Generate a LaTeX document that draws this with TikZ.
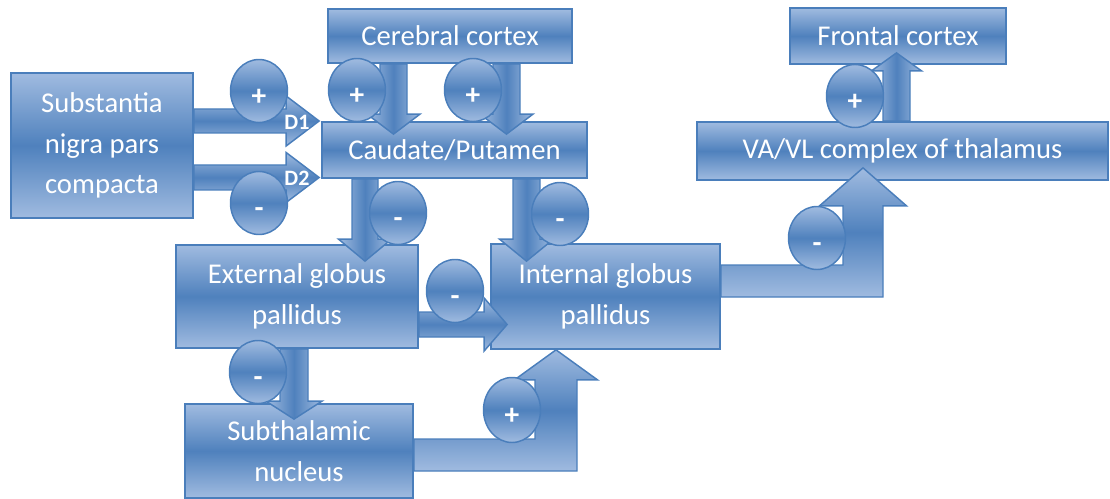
\documentclass[tikz,border=0pt]{standalone}
\usepackage{fontspec}
\setmainfont{Carlito}
\usetikzlibrary{calc,shapes.geometric}
\definecolor{light}{HTML}{A0BBE0}
\definecolor{mid}{HTML}{4F81BD}
\definecolor{edge}{HTML}{4A7EBB}
% right arrow: start, tip, shaft half width, head half width, head length
\newcommand\rarrow[5]{\path[harr] ($(#1)+(0,-#3)$) -- ($(#2|-#1)+(-#5,-#3)$) -- ($(#2|-#1)+(-#5,-#4)$) -- (#2|-#1) -- ($(#2|-#1)+(-#5,#4)$) -- ($(#2|-#1)+(-#5,#3)$) -- ($(#1)+(0,#3)$) -- cycle;}
% down arrow
\newcommand\darrow[5]{\path[varr] ($(#1)+(-#3,0)$) -- ($(#1|-#2)+(-#3,-#5)$) -- ($(#1|-#2)+(-#4,-#5)$) -- (#1|-#2) -- ($(#1|-#2)+(#4,-#5)$) -- ($(#1|-#2)+(#3,-#5)$) -- ($(#1)+(#3,0)$) -- cycle;}
% up arrow
\newcommand\uarrow[5]{\path[varr] ($(#1)+(-#3,0)$) -- ($(#1|-#2)+(-#3,#5)$) -- ($(#1|-#2)+(-#4,#5)$) -- (#1|-#2) -- ($(#1|-#2)+(#4,#5)$) -- ($(#1|-#2)+(#3,#5)$) -- ($(#1)+(#3,0)$) -- cycle;}
% bent (right then up) arrow: start, tip, horiz half width, vert half width, head half width, head length
\newcommand\bentarrow[6]{\path[harr] ($(#1)+(0,-#3)$) -- ($(#2|-#1)+(-#4,-#3)$) -- ($(#2)+(-#4,#6)$) -- ($(#2)+(-#5,#6)$) -- (#2) -- ($(#2)+(#5,#6)$) -- ($(#2)+(#4,#6)$) -- ($(#2|-#1)+(#4,#3)$) -- ($(#1)+(0,#3)$) -- cycle;}
\tikzset{
  box/.style={draw=edge, line width=1.3pt, top color=light, bottom color=light, middle color=mid,
    text=white, align=center, inner sep=0pt, font=\fontsize{21.5}{30.4}\selectfont},
  harr/.style={draw=edge, line width=1.1pt, line join=miter, top color=light, bottom color=light, middle color=mid},
  varr/.style={draw=edge, line width=1.1pt, line join=miter, left color=light, right color=light, middle color=mid},
  sign/.style={ellipse, draw=edge, line width=1.1pt, top color=light, bottom color=light, middle color=mid,
    minimum width=42.75pt, minimum height=47.25pt, inner sep=0pt, text=white,
    text height=22pt, text depth=0pt,
    font=\fontsize{22}{24}\selectfont\bfseries},
  dlabel/.style={text=white, inner sep=0pt, font=\fontsize{16.5}{18}\selectfont\bfseries}
}
\begin{document}
\begin{tikzpicture}[x=0.75pt,y=-0.75pt]
\useasboundingbox (0,0) rectangle (1110,499);
% boxes
\node[box, minimum width=136.5pt, minimum height=108.75pt] (sn) at (102,145.5) {Substantia\\nigra pars\\compacta};
\node[box, minimum width=183pt, minimum height=40.5pt] (cc) at (450,36) {Cerebral cortex};
\node[box, minimum width=198.75pt, minimum height=42pt] (cp) at (454.5,150) {Caudate/Putamen};
\node[box, minimum width=181.5pt, minimum height=77.25pt] (egp) at (297,296.5) {External globus\\pallidus};
\node[box, minimum width=171.75pt, minimum height=78.75pt] (igp) at (605.5,296.5) {Internal globus\\pallidus};
\node[box, minimum width=171pt, minimum height=70.5pt] (stn) at (299,451) {Subthalamic\\nucleus};
\node[box, minimum width=308.25pt, minimum height=43.5pt] (va) at (902.5,151) {VA/VL complex of thalamus};
\node[box, minimum width=162pt, minimum height=42pt] (fc) at (898,36) {Frontal cortex};
% connector end points
\coordinate (s1) at ($(sn.east)+(0,-24.5)$);
\coordinate (t1) at ($(cp.west)+(-2,0)$);
\coordinate (s2) at ($(sn.east)+(0,32)$);
\coordinate (s3) at ($(cc.south)+(-56.5,0)$);
\coordinate (s4) at ($(cc.south)+(56.5,0)$);
\coordinate (t34) at ($(cp.north)+(0,13)$);
\coordinate (s5) at ($(cp.south)+(-89.5,0)$);
\coordinate (t5) at ($(egp.north)+(0,17)$);
\coordinate (s6) at ($(cp.south)+(72,0)$);
\coordinate (t6) at ($(igp.north)+(0,18)$);
\coordinate (s7) at ($(egp.east)+(0,28)$);
\coordinate (t7) at ($(igp.west)+(17,0)$);
\coordinate (s8) at ($(egp.south)+(-3,0)$);
\coordinate (t8) at ($(stn.north)+(0,16)$);
\coordinate (s9) at ($(stn.east)+(0,4)$);
\coordinate (t9) at ($(igp.south)+(-49.5,0)$);
\coordinate (s10) at ($(igp.east)+(0,-15.5)$);
\coordinate (t10) at ($(va.south)+(-39.5,-13)$);
\coordinate (s11) at ($(va.north)+(-6,0)$);
\coordinate (t11) at ($(fc.south)+(0,-12)$);
% block arrows
\rarrow{s1}{t1}{12}{25}{33}
\rarrow{s2}{t1}{12.5}{25}{33}
\darrow{s3}{t34}{13.5}{26.5}{20}
\darrow{s4}{t34}{13.5}{26.5}{20}
\darrow{s5}{t5}{13}{26.5}{22}
\darrow{s6}{t6}{13.5}{27}{22}
\rarrow{s7}{t7}{12.5}{26.5}{23}
\darrow{s8}{t8}{14}{28}{18}
\bentarrow{s9}{t9}{16}{21}{41.5}{30}
\bentarrow{s10}{t10}{16}{20}{43.5}{38}
\uarrow{s11}{t11}{13.5}{25}{18}
% signs
\node[sign] (e1) at (259,91) {+};
\node[sign] (e2) at (259,203) {-};
\node[sign] (e3) at (357,90) {+};
\node[sign] (e4) at (473,90) {+};
\node[sign] (e5) at (398,213) {-};
\node[sign] (e6) at (560,214) {-};
\node[sign] (e7) at (455,291) {-};
\node[sign] (e8) at (258,372) {-};
\node[sign, minimum height=48.75pt] (e9) at (512,410) {+};
\node[sign] (e10) at (817,238) {-};
\node[sign] (e11) at (855,96) {+};
% receptor labels
\node[dlabel] (d1) at (297,122) {D1};
\node[dlabel] (d2) at (297,178) {D2};
\end{tikzpicture}
\end{document}
